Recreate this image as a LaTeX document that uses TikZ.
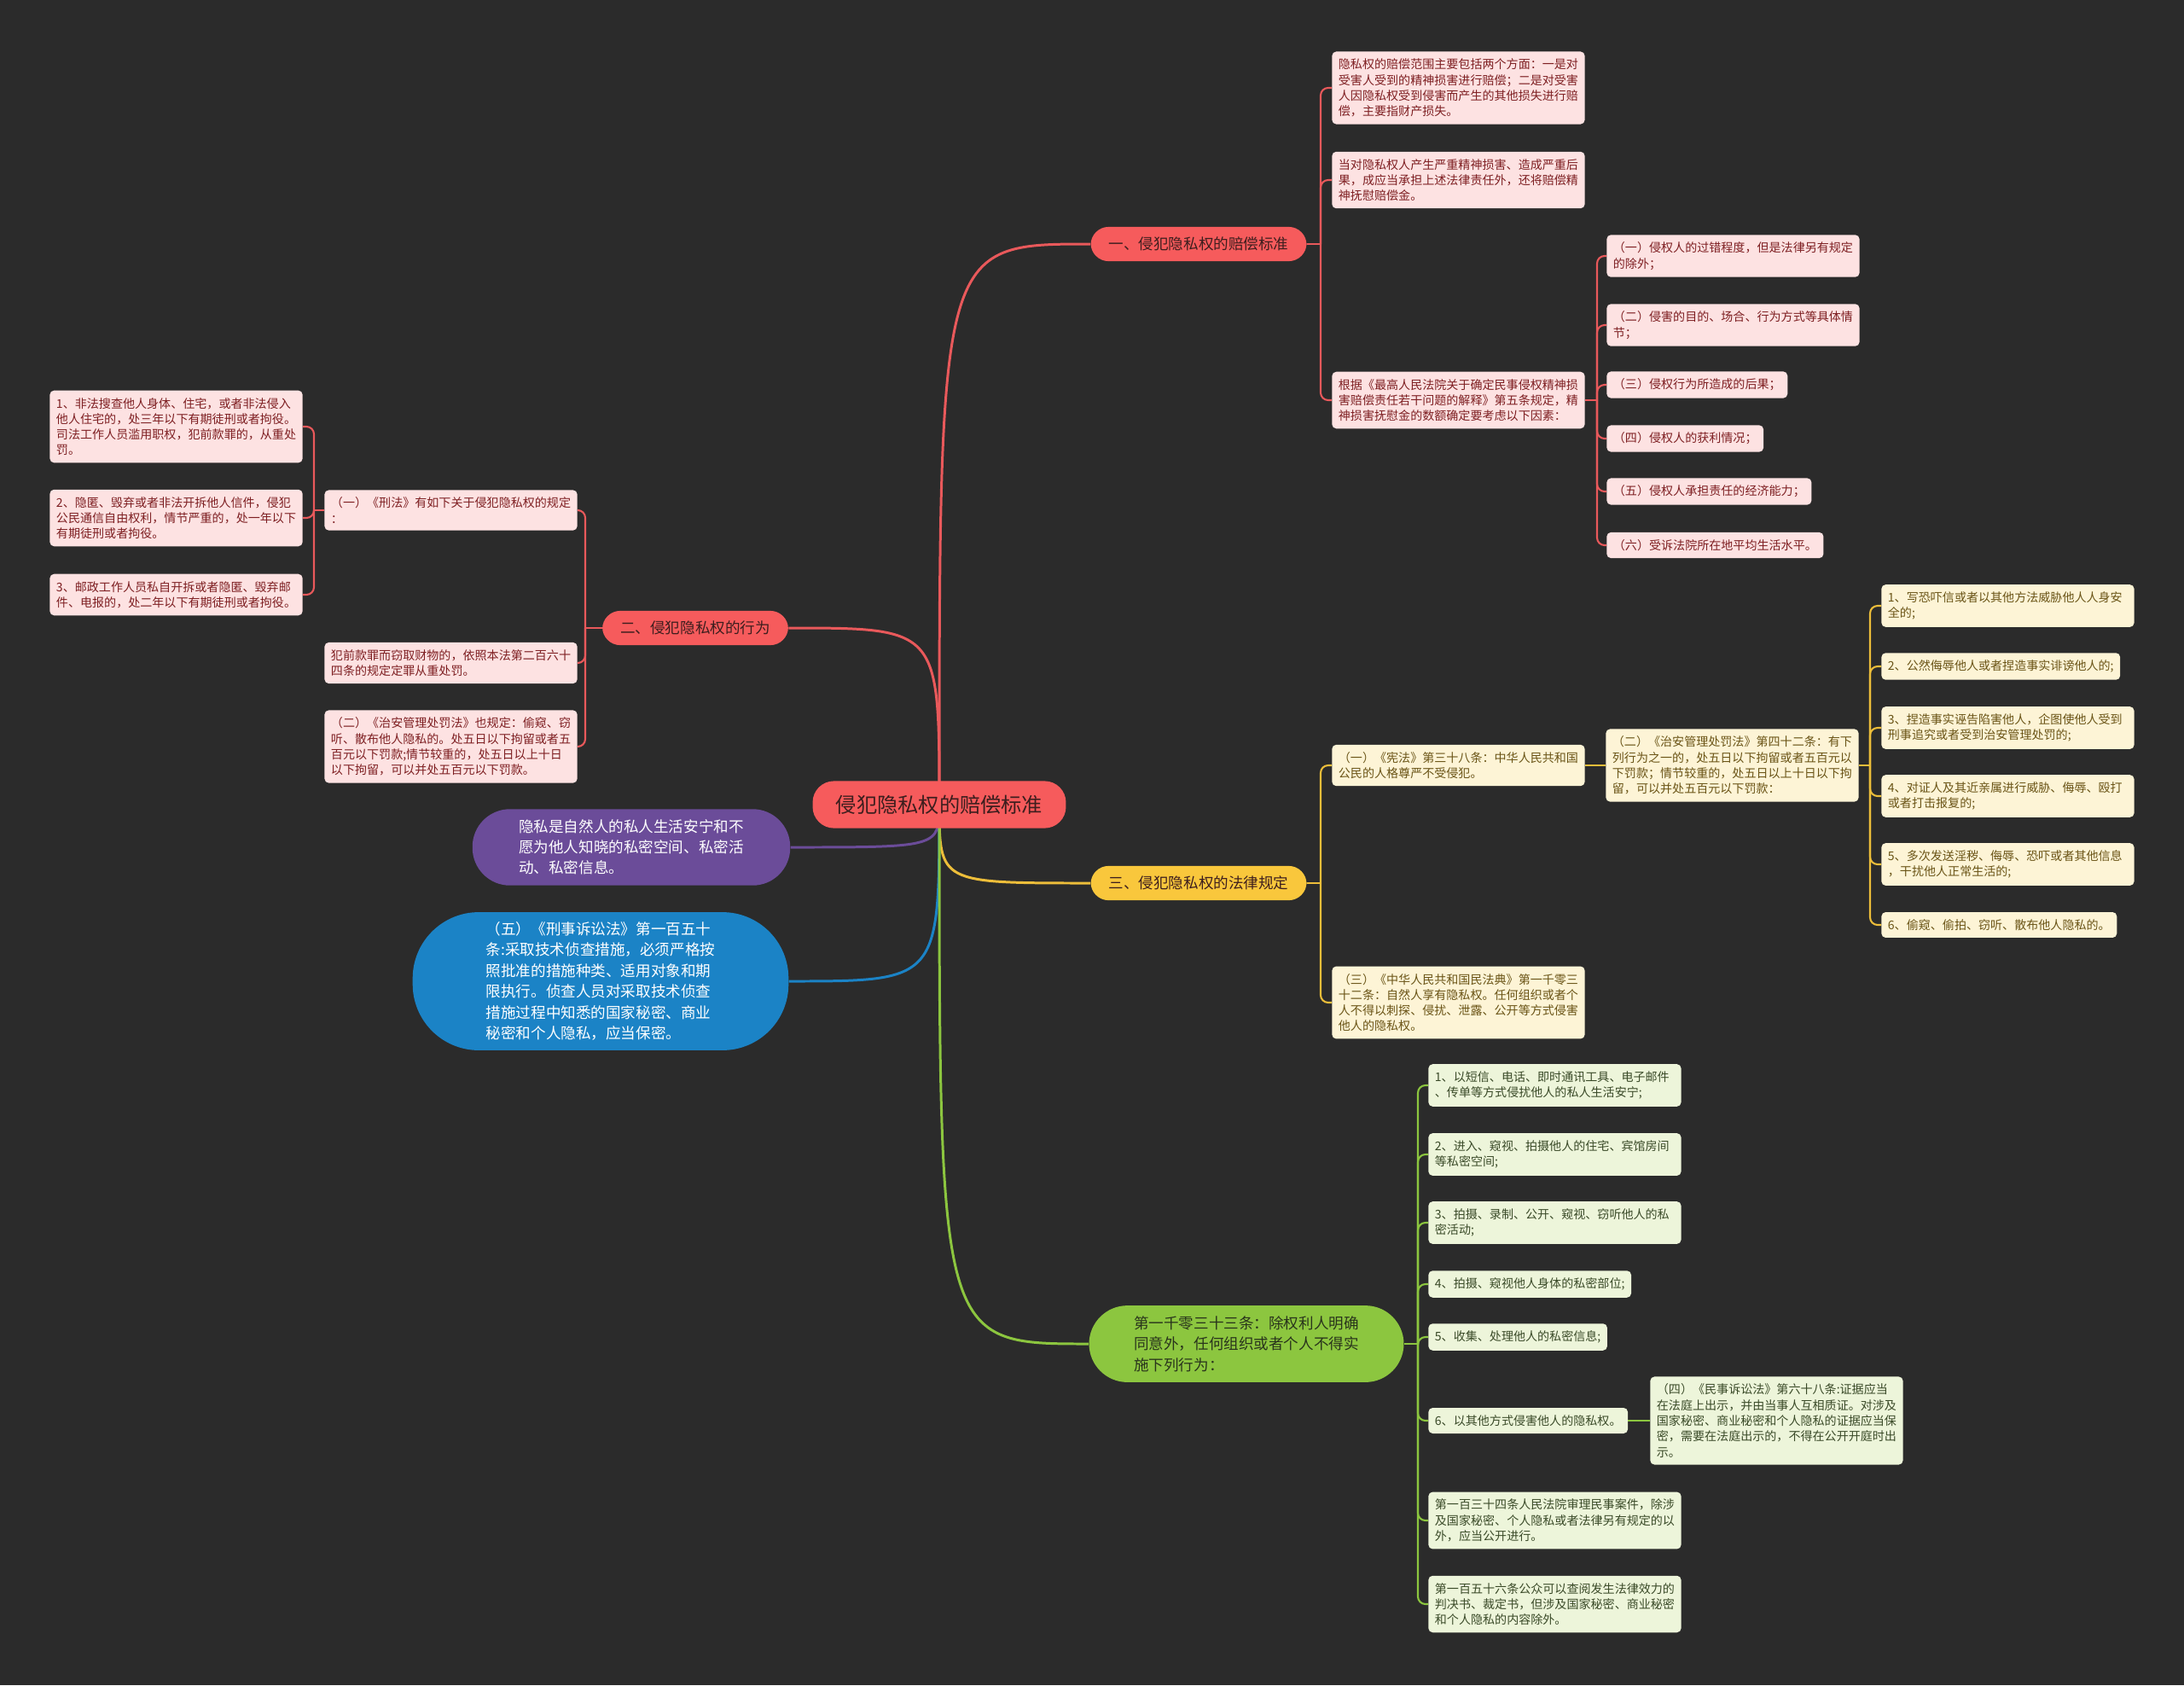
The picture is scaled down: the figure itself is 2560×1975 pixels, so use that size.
\documentclass[tikz,border=0pt]{standalone}
\usepackage{fontspec}
\setmainfont{Noto Sans CJK SC}
\usepackage{xcolor}
\usetikzlibrary{positioning,calc,backgrounds}

\definecolor{bgcol}{HTML}{2B2B2B}
\definecolor{redfill}{HTML}{F65B5C}
\definecolor{redline}{HTML}{E9595B}
\definecolor{redleaf}{HTML}{FDE2E2}
\definecolor{redtext}{HTML}{7E1F22}
\definecolor{yelfill}{HTML}{F9C73C}
\definecolor{yelline}{HTML}{EDBE3A}
\definecolor{yelleaf}{HTML}{FDF4D6}
\definecolor{yeltext}{HTML}{6A5416}
\definecolor{grnfill}{HTML}{8CC63F}
\definecolor{grnline}{HTML}{8CC63F}
\definecolor{grnleaf}{HTML}{EDF5DA}
\definecolor{grntext}{HTML}{3A4A28}
\definecolor{purfill}{HTML}{6B4C99}
\definecolor{bluefill}{HTML}{1B83C6}
\definecolor{darktext}{HTML}{3D1E1E}

\tikzset{
  leaf/.style={rounded corners=2.8pt, inner xsep=4.3pt, inner ysep=4.8pt, align=left,
    font=\fontsize{8}{10.4}\selectfont},
  wide/.style={text width=160pt},
  redleafbox/.style={leaf, fill=redleaf, text=redtext},
  yelleafbox/.style={leaf, fill=yelleaf, text=yeltext},
  grnleafbox/.style={leaf, fill=grnleaf, text=grntext},
  branch/.style={rounded corners=0.42cm, inner xsep=12pt, inner ysep=6.8pt, text=darktext,
    font=\fontsize{10}{13.9}\selectfont},
  bubble/.style={align=left, text=white, font=\fontsize{10}{13.6}\selectfont},
  link/.style={line width=1.2pt, rounded corners=5pt},
  mainlink/.style={line width=1.7pt},
}

\begin{document}
\begin{tikzpicture}[x=0.02cm, y=-0.02cm]
  \useasboundingbox (0,0) rectangle (2560,1975);

  % Root
  \node[fill=redfill, text=darktext, rounded corners=0.5cm, inner xsep=15.5pt, inner ysep=9.3pt,
    font=\fontsize{13.8}{16}\selectfont] (root) at (1101,943) {侵犯隐私权的赔偿标准};

  % Branches
  \node[branch, fill=redfill] (br1) at (1405,286) {一、侵犯隐私权的赔偿标准};
  \node[branch, fill=redfill] (br2) at (815,736) {二、侵犯隐私权的行为};
  \node[branch, fill=yelfill] (br3) at (1405,1035) {三、侵犯隐私权的法律规定};
  \node[branch, fill=grnfill, align=left, rounded corners=0.9cm, inner xsep=30pt, inner ysep=7pt,
    text=grntext!70!black] (br4) at (1461,1575)
    {第一千零三十三条：除权利人明确\\同意外，任何组织或者个人不得实\\施下列行为：};
  \node[bubble, fill=purfill, rounded corners=0.88cm, inner xsep=31pt, inner ysep=7.2pt] (priv) at (740,993)
    {隐私是自然人的私人生活安宁和不\\愿为他人知晓的私密空间、私密活\\动、私密信息。};
  \node[bubble, fill=bluefill, rounded corners=1.55cm, inner xsep=49pt, inner ysep=6.5pt,
    font=\fontsize{10}{13.9}\selectfont] (xsf) at (704,1150)
    {（五）《刑事诉讼法》第一百五十\\条:采取技术侦查措施，必须严格按\\照批准的措施种类、适用对象和期\\限执行。侦查人员对采取技术侦查\\措施过程中知悉的国家秘密、商业\\秘密和个人隐私，应当保密。};

  % Red branch one
  \node[redleafbox, wide, anchor=west] (r1) at (1561,103)
    {隐私权的赔偿范围主要包括两个方面：一是对\\受害人受到的精神损害进行赔偿；二是对受害\\人因隐私权受到侵害而产生的其他损失进行赔\\偿，主要指财产损失。};
  \node[redleafbox, wide, anchor=west] (r2) at (1561,211)
    {当对隐私权人产生严重精神损害、造成严重后\\果，成应当承担上述法律责任外，还将赔偿精\\神抚慰赔偿金。};
  \node[redleafbox, wide, anchor=west] (r3) at (1561,469)
    {根据《最高人民法院关于确定民事侵权精神损\\害赔偿责任若干问题的解释》第五条规定，精\\神损害抚慰金的数额确定要考虑以下因素：};
  \node[redleafbox, wide, anchor=west] (s1) at (1883,300) {（一）侵权人的过错程度，但是法律另有规定\\的除外；};
  \node[redleafbox, wide, anchor=west] (s2) at (1883,381) {（二）侵害的目的、场合、行为方式等具体情\\节；};
  \node[redleafbox, anchor=west] (s3) at (1883,451) {（三）侵权行为所造成的后果；};
  \node[redleafbox, anchor=west] (s4) at (1883,514) {（四）侵权人的获利情况；};
  \node[redleafbox, anchor=west] (s5) at (1883,576) {（五）侵权人承担责任的经济能力；};
  \node[redleafbox, anchor=west] (s6) at (1883,639) {（六）受诉法院所在地平均生活水平。};

  % Red branch two
  \node[redleafbox, wide, anchor=east] (l1) at (677,598) {（一）《刑法》有如下关于侵犯隐私权的规定\\：};
  \node[redleafbox, wide, anchor=east] (l2) at (677,777) {犯前款罪而窃取财物的，依照本法第二百六十\\四条的规定定罪从重处罚。};
  \node[redleafbox, wide, anchor=east] (l3) at (677,875)
    {（二）《治安管理处罚法》也规定：偷窥、窃\\听、散布他人隐私的。处五日以下拘留或者五\\百元以下罚款;情节较重的，处五日以上十日\\以下拘留，可以并处五百元以下罚款。};
  \node[redleafbox, wide, anchor=east] (ll1) at (355,500)
    {1、非法搜查他人身体、住宅，或者非法侵入\\他人住宅的，处三年以下有期徒刑或者拘役。\\司法工作人员滥用职权，犯前款罪的，从重处\\罚。};
  \node[redleafbox, wide, anchor=east] (ll2) at (355,607)
    {2、隐匿、毁弃或者非法开拆他人信件，侵犯\\公民通信自由权利，情节严重的，处一年以下\\有期徒刑或者拘役。};
  \node[redleafbox, wide, anchor=east] (ll3) at (355,697)
    {3、邮政工作人员私自开拆或者隐匿、毁弃邮\\件、电报的，处二年以下有期徒刑或者拘役。};

  % Yellow branch
  \node[yelleafbox, wide, anchor=west] (y1) at (1561,897) {（一）《宪法》第三十八条：中华人民共和国\\公民的人格尊严不受侵犯。};
  \node[yelleafbox, wide, anchor=west] (y2) at (1882,897)
    {（二）《治安管理处罚法》第四十二条：有下\\列行为之一的，处五日以下拘留或者五百元以\\下罚款；情节较重的，处五日以上十日以下拘\\留，可以并处五百元以下罚款：};
  \node[yelleafbox, wide, anchor=west] (y3) at (1561,1175)
    {（三）《中华人民共和国民法典》第一千零三\\十二条：自然人享有隐私权。任何组织或者个\\人不得以刺探、侵扰、泄露、公开等方式侵害\\他人的隐私权。};
  \node[yelleafbox, wide, anchor=west] (q1) at (2205,710) {1、写恐吓信或者以其他方法威胁他人人身安\\全的;};
  \node[yelleafbox, anchor=west] (q2) at (2205,781) {2、公然侮辱他人或者捏造事实诽谤他人的;};
  \node[yelleafbox, wide, anchor=west] (q3) at (2205,853) {3、捏造事实诬告陷害他人，企图使他人受到\\刑事追究或者受到治安管理处罚的;};
  \node[yelleafbox, wide, anchor=west] (q4) at (2205,933) {4、对证人及其近亲属进行威胁、侮辱、殴打\\或者打击报复的;};
  \node[yelleafbox, wide, anchor=west] (q5) at (2205,1013) {5、多次发送淫秽、侮辱、恐吓或者其他信息\\，干扰他人正常生活的;};
  \node[yelleafbox, anchor=west] (q6) at (2205,1084) {6、偷窥、偷拍、窃听、散布他人隐私的。};

  % Green branch
  \node[grnleafbox, wide, anchor=west] (g1) at (1674,1272) {1、以短信、电话、即时通讯工具、电子邮件\\、传单等方式侵扰他人的私人生活安宁;};
  \node[grnleafbox, wide, anchor=west] (g2) at (1674,1353) {2、进入、窥视、拍摄他人的住宅、宾馆房间\\等私密空间;};
  \node[grnleafbox, wide, anchor=west] (g3) at (1674,1433) {3、拍摄、录制、公开、窥视、窃听他人的私\\密活动;};
  \node[grnleafbox, anchor=west] (g4) at (1674,1505) {4、拍摄、窥视他人身体的私密部位;};
  \node[grnleafbox, anchor=west] (g5) at (1674,1567) {5、收集、处理他人的私密信息;};
  \node[grnleafbox, anchor=west] (g6) at (1674,1665) {6、以其他方式侵害他人的隐私权。};
  \node[grnleafbox, wide, anchor=west] (g6x) at (1934,1665)
    {（四）《民事诉讼法》第六十八条:证据应当\\在法庭上出示，并由当事人互相质证。对涉及\\国家秘密、商业秘密和个人隐私的证据应当保\\密，需要在法庭出示的，不得在公开开庭时出\\示。};
  \node[grnleafbox, wide, anchor=west] (g7) at (1674,1782)
    {第一百三十四条人民法院审理民事案件，除涉\\及国家秘密、个人隐私或者法律另有规定的以\\外，应当公开进行。};
  \node[grnleafbox, wide, anchor=west] (g8) at (1674,1880)
    {第一百五十六条公众可以查阅发生法律效力的\\判决书、裁定书，但涉及国家秘密、商业秘密\\和个人隐私的内容除外。};

  % Bracket points
  \coordinate (k1) at (1548,286);
  \coordinate (k2) at (686,736);
  \coordinate (k3) at (368,598);
  \coordinate (k4) at (1548,1035);
  \coordinate (k5) at (2192,897);
  \coordinate (k6) at (1662,1575);
  \coordinate (k7) at (1872,469);

  \begin{scope}[on background layer]
    \fill[bgcol] (0,0) rectangle (2560,1975);

    % Root links
    \draw[redline, mainlink] (root.center) .. controls (root.center |- br1.west) .. (br1.west);
    \draw[redline, mainlink] (root.center) .. controls (root.center |- br2.east) .. (br2.east);
    \draw[purfill, mainlink] (root.center) .. controls (root.center |- priv.east) .. (priv.east);
    \draw[bluefill, mainlink] (root.center) .. controls (root.center |- xsf.east) .. (xsf.east);
    \draw[yelline, mainlink] (root.center) .. controls (root.center |- br3.west) .. (br3.west);
    \draw[grnline, mainlink] (root.center) .. controls (root.center |- br4.west) .. (br4.west);

    % Brackets
    \draw[redline, link] (br1.east) -- (k1);
    \foreach \c in {r1,r2,r3} \draw[redline, link] (k1) |- (\c.west);
    \draw[redline, link] (r3.east) -- (k7);
    \foreach \c in {s1,s2,s3,s4,s5,s6} \draw[redline, link] (k7) |- (\c.west);
    \draw[redline, link] (br2.west) -- (k2);
    \foreach \c in {l1,l2,l3} \draw[redline, link] (k2) |- (\c.east);
    \draw[redline, link] (l1.west) -- (k3);
    \foreach \c in {ll1,ll2,ll3} \draw[redline, link] (k3) |- (\c.east);
    \draw[yelline, link] (br3.east) -- (k4);
    \foreach \c in {y1,y3} \draw[yelline, link] (k4) |- (\c.west);
    \draw[yelline, link] (y1.east) -- (y2.west);
    \draw[yelline, link] (y2.east) -- (k5);
    \foreach \c in {q1,q2,q3,q4,q5,q6} \draw[yelline, link] (k5) |- (\c.west);
    \draw[grnline, link] (br4.east) -- (k6);
    \foreach \c in {g1,g2,g3,g4,g5,g6,g7,g8} \draw[grnline, link] (k6) |- (\c.west);
    \draw[grnline, link] (g6.east) -- (g6x.west);
  \end{scope}
\end{tikzpicture}
\end{document}
